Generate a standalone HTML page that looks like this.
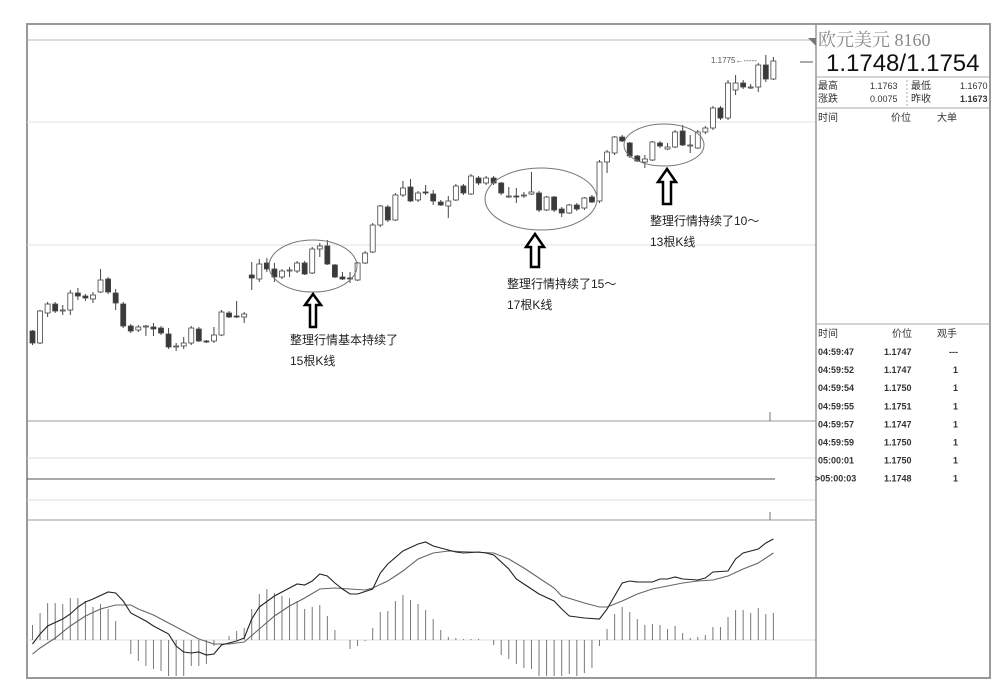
<!DOCTYPE html>
<html><head><meta charset="utf-8"><style>
body{margin:0;background:#fff;width:1000px;height:694px;overflow:hidden;font-family:"Liberation Sans","Noto Sans CJK SC",sans-serif}
svg text{font-family:"Liberation Sans","Noto Sans CJK SC",sans-serif}
</style></head><body>
<svg id="c" width="1000" height="694">
<rect x="27" y="24" width="963" height="654" fill="none" stroke="#999" stroke-width="2"/>
<line x1="27" y1="40" x2="816" y2="40" stroke="#bbb"/>
<line x1="27" y1="122" x2="816" y2="122" stroke="#eadede"/>
<line x1="27" y1="245" x2="816" y2="245" stroke="#eadede"/>
<line x1="27" y1="421" x2="816" y2="421" stroke="#999"/>
<line x1="27" y1="458" x2="816" y2="458" stroke="#ddd"/>
<line x1="27" y1="479" x2="775" y2="479" stroke="#555"/>
<line x1="27" y1="500" x2="816" y2="500" stroke="#ddd"/>
<line x1="27" y1="520" x2="816" y2="520" stroke="#999"/>
<line x1="27" y1="640" x2="816" y2="640" stroke="#ddd"/>
<line x1="770" y1="412" x2="770" y2="421" stroke="#777"/>
<line x1="770" y1="512" x2="770" y2="520" stroke="#777"/>
<line x1="816" y1="24" x2="816" y2="678" stroke="#999" stroke-width="1.5"/>
<polygon points="808,38 816,38 816,46" fill="#777"/>
<line x1="800" y1="62" x2="813" y2="62" stroke="#555"/>
<text x="711" y="63" font-size="8" fill="#555">1.1775←-----</text>
<g id="candles"></g>
<g id="macd"></g>
<g fill="none" stroke="#777" stroke-width="1">
<ellipse cx="313" cy="266" rx="44" ry="26"/>
<ellipse cx="541" cy="199" rx="56" ry="31"/>
<ellipse cx="664" cy="145" rx="40" ry="21"/>
</g>
<g fill="#fff" stroke="#000" stroke-width="2.5" stroke-linejoin="miter">
<polygon points="313,294 321,305 316,305 316,327 310,327 310,305 305,305"/>
<polygon points="535,234 544,247 539,247 539,267 531,267 531,247 526,247"/>
<polygon points="667,169 676,182 671,182 671,204 663,204 663,182 658,182"/>
</g>
<g font-size="12" fill="#222">
<text x="290" y="344">整理行情基本持续了</text>
<text x="290" y="365">15根K线</text>
<text x="507" y="288">整理行情持续了15～</text>
<text x="507" y="309">17根K线</text>
<text x="650" y="225">整理行情持续了10～</text>
<text x="650" y="246">13根K线</text>
</g>
<g>
<text x="818" y="46" font-size="18" fill="#888" style="font-family:'Liberation Serif','Noto Serif CJK SC',serif">欧元美元 8160</text>
<text x="826" y="71" font-size="24" fill="#111">1.1748/1.1754</text>
<line x1="816" y1="77" x2="990" y2="77" stroke="#aaa"/>
<g font-size="10" fill="#333">
<text x="818" y="89">最高</text>
<text x="870" y="89" font-size="9">1.1763</text>
<text x="911" y="89">最低</text>
<text x="960" y="89" font-size="9">1.1670</text>
<text x="818" y="102">涨跌</text>
<text x="870" y="102" font-size="9">0.0075</text>
<text x="911" y="102">昨收</text>
<text x="960" y="102" font-size="9" font-weight="bold">1.1673</text>
</g>
<line x1="907" y1="80" x2="907" y2="106" stroke="#aaa" stroke-dasharray="2,2"/>
<line x1="816" y1="108" x2="990" y2="108" stroke="#aaa"/>
<g font-size="10" fill="#333">
<text x="818" y="121">时间</text>
<text x="891" y="121">价位</text>
<text x="937" y="121">大单</text>
</g>
<line x1="816" y1="324" x2="990" y2="324" stroke="#aaa"/>
<g font-size="10" fill="#333">
<text x="818" y="337">时间</text>
<text x="892" y="337">价位</text>
<text x="937" y="337">观手</text>
</g>
<g id="ticks" font-size="9" font-weight="bold" fill="#333"></g>
</g>
</svg>
<script>
const openPts=[69,57,87,96,90,90,107,104,101,108,121,107,96,74,70,73,73,72,66,54,54,57,71,59,59,65,87,84,83,125,121,137,131,123,130,129,137,127,151,154,135,123,122,120,137,148,175,193,180,205,213,200,208,206,198,194,200,214,206,222,217,222,217,204,204,205,206,207,190,203,191,187,195,192,203,199,238,247,263,257,244,238,240,257,251,253,269,255,252,268,272,292,282,310,317,313,313,335,321];
const closePts=[57,89,96,89,90,107,104,102,105,120,108,97,74,69,73,74,71,67,53,54,57,72,59,58,65,88,83,83,86,122,136,131,123,129,130,137,126,151,154,136,123,121,121,137,147,175,194,180,205,212,199,207,207,199,195,199,214,207,224,217,222,217,207,204,203,205,208,190,203,190,187,195,191,202,198,238,248,263,259,244,239,241,258,254,253,268,255,255,268,272,292,282,317,317,313,313,335,321,339];
const highPts=[70,90,98,98,95,110,112,106,108,131,123,111,98,76,75,75,77,74,72,57,63,74,73,60,73,90,89,99,88,138,141,142,137,131,133,139,139,153,157,160,136,128,128,138,149,177,195,195,207,219,221,209,215,210,200,204,216,216,226,224,224,224,218,213,212,208,228,209,204,204,193,196,197,203,205,240,250,264,265,258,245,245,259,259,257,270,275,265,270,274,294,294,320,325,320,316,337,345,343];
const lowPts=[55,56,83,87,85,85,100,99,97,107,106,90,72,67,68,64,64,65,51,49,51,55,58,57,57,64,82,82,77,110,118,128,118,121,123,127,125,126,143,135,122,120,117,119,136,147,173,178,179,203,198,198,205,195,194,182,199,205,205,215,215,215,205,202,197,202,205,188,189,188,183,186,189,190,197,197,227,245,258,242,238,232,239,252,250,252,254,247,251,266,270,280,280,305,311,311,308,318,320];
const histVals=[15,27,37,37,36,42,42,39,33,36,31,19,0,-14,-21,-26,-29,-31,-36,-36,-36,-26,-26,-24,-6,0,4,9,12,31,46,51,47,44,42,39,31,33,35,24,10,0,-9,-6,-1,12,28,29,39,45,40,36,30,21,10,3,2,1,1,1,0,-5,-15,-19,-24,-28,-29,-36,-36,-36,-36,-34,-36,-33,-28,-6,11,26,33,28,21,15,16,15,11,14,7,2,3,5,13,13,23,30,30,27,32,26,27];
const difIdx=[0,1,2,4,5,6,7,8,10,11,12,13,15,16,18,19,20,21,22,23,24,25,27,28,29,30,32,34,35,36,37,38,39,40,41,42,43,45,46,47,49,51,52,53,55,56,57,59,60,61,63,64,65,67,69,70,71,73,75,76,77,78,79,80,82,83,84,85,86,88,89,90,92,93,94,96,97,98];
const difVals=[-4,6,14,21,26,33,38,41,48,47,39,27,19,14,6,-6,-12,-13,-12,-15,-14,-5,-1,2,21,33,44,52,56,55,59,66,64,57,51,46,46,51,67,76,89,96,98,94,90,88,87,88,87,85,71,61,56,46,39,31,24,22,21,31,44,57,59,58,58,61,61,63,61,60,62,68,69,81,87,91,97,101];
const deaIdx=[0,1,3,5,7,9,11,13,14,16,18,20,22,24,26,28,30,32,34,36,38,40,42,44,45,47,49,51,53,55,58,61,63,65,67,69,70,73,75,76,78,80,82,84,86,88,90,92,94,96,98];
const deaVals=[-14,-8,2,14,24,31,35,35,31,25,17,9,1,-4,-4,-2,11,24,34,42,51,52,51,50,52,59,69,81,87,89,88,87,81,72,62,52,44,37,33,33,39,46,51,54,57,59,60,64,71,77,87];
const tickTimes=["04:59:47","04:59:52","04:59:54","04:59:55","04:59:57","04:59:59","05:00:01",">05:00:03"];
const tickPrices=["1.1747","1.1747","1.1750","1.1751","1.1747","1.1750","1.1750","1.1748"];
const tickLots=["---","1","1","1","1","1","1","1"];

const NS="http://www.w3.org/2000/svg";
const xOf=i=>32.5+i*7.56;
const yP=v=>400-v;
const yM=v=>640-v;
function mk(t,a){const e=document.createElementNS(NS,t);for(const k in a)e.setAttribute(k,a[k]);return e;}
const cg=document.getElementById('candles');
for(let i=0;i<openPts.length;i++){
  const x=xOf(i),o=openPts[i],c=closePts[i];
  const w=mk('line',{x1:x,x2:x,y1:yP(highPts[i]),y2:yP(lowPts[i]),stroke:'#444','stroke-width':1});
  
  
  cg.appendChild(w);
  const top=yP(Math.max(o,c)),h=Math.max(1,Math.abs(o-c));
  const up=c>=o;
  const b=mk('rect',{x:x-2.5,y:top,width:5,height:h,fill:up?'#fff':'#3a3a3a',stroke:'#444','stroke-width':0.8});
  
  
  cg.appendChild(b);
}
const mg=document.getElementById('macd');
for(let i=0;i<histVals.length;i++){
  const x=xOf(i);
  const l=mk('line',{x1:x,x2:x,y1:yM(0),y2:yM(histVals[i]),stroke:'#777','stroke-width':1});
  
  
  mg.appendChild(l);
}
function path(idx,vals,col,name){
  const d=idx.map((k,j)=>(j?'L':'M')+xOf(k).toFixed(1)+','+yM(vals[j]).toFixed(1)).join('');
  const p=mk('path',{d:d,fill:'none',stroke:col,'stroke-width':1.1});
  
  
  mg.appendChild(p);
}
path(deaIdx,deaVals,'#666','dea-line');
path(difIdx,difVals,'#222','dif-line');
const tg=document.getElementById('ticks');
for(let r=0;r<tickTimes.length;r++){
  const y=355+r*18.1;
  const a=mk('text',{x:tickTimes[r].startsWith('>')?815:818,y:y});a.textContent=tickTimes[r];
  
  
  const b=mk('text',{x:884,y:y});b.textContent=tickPrices[r];
  
  
  const c=mk('text',{x:958,y:y,'text-anchor':'end'});c.textContent=tickLots[r];
  
  
  tg.appendChild(a);tg.appendChild(b);tg.appendChild(c);
}
</script>
</body></html>
